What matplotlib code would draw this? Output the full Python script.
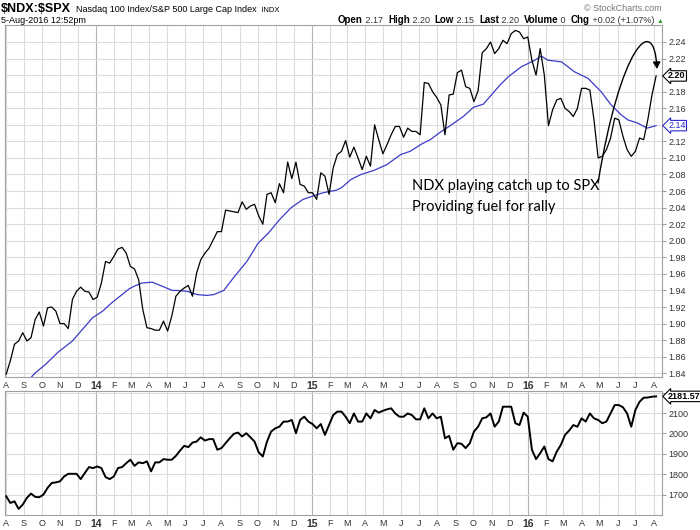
import matplotlib
matplotlib.use('Agg')
import matplotlib.pyplot as plt
import pandas as pd
import numpy as np
from matplotlib.path import Path
from matplotlib.patches import FancyArrowPatch

# ---------------- data ----------------
ratio_values = [
    1.839, 1.855, 1.875, 1.879, 1.889, 1.879, 1.883, 1.905, 1.914, 1.897,
    1.919, 1.920, 1.915, 1.900, 1.900, 1.894, 1.929, 1.939, 1.944, 1.939,
    1.938, 1.929, 1.932, 1.949, 1.975, 1.973, 1.981, 1.990, 1.992, 1.985,
    1.969, 1.966, 1.953, 1.917, 1.895, 1.894, 1.892, 1.892, 1.903, 1.891,
    1.909, 1.933, 1.939, 1.943, 1.946, 1.933, 1.961, 1.977, 1.985, 1.991,
    2.001, 2.011, 2.011, 2.037, 2.036, 2.035, 2.034, 2.047, 2.038, 2.042,
    2.044, 2.030, 2.020, 2.056, 2.058, 2.046, 2.069, 2.058, 2.095, 2.075,
    2.095, 2.068, 2.066, 2.058, 2.058, 2.050, 2.082, 2.078, 2.056, 2.088,
    2.104, 2.108, 2.121, 2.101, 2.113, 2.100, 2.086, 2.102, 2.090, 2.140,
    2.122, 2.105, 2.116, 2.128, 2.138, 2.138, 2.125, 2.136, 2.132, 2.132,
    2.128, 2.191, 2.190, 2.180, 2.173, 2.164, 2.128, 2.176, 2.177, 2.203,
    2.206, 2.186, 2.184, 2.168, 2.181, 2.227, 2.232, 2.240, 2.226, 2.232,
    2.242, 2.238, 2.250, 2.254, 2.252, 2.244, 2.246, 2.218, 2.200, 2.232,
    2.200, 2.139, 2.158, 2.170, 2.172, 2.160, 2.156, 2.150, 2.160, 2.184,
    2.184, 2.182, 2.146, 2.100, 2.102, 2.110, 2.124, 2.148, 2.146, 2.126,
    2.110, 2.102, 2.108, 2.124, 2.122, 2.146, 2.176, 2.199,
]

spx_values = [
    1692, 1659, 1667, 1630, 1651, 1684, 1705, 1689, 1687, 1700,
    1733, 1757, 1760, 1765, 1789, 1802, 1802, 1802, 1776, 1806,
    1835, 1830, 1838, 1830, 1786, 1776, 1789, 1830, 1835, 1854,
    1871, 1841, 1858, 1854, 1863, 1814, 1858, 1858, 1874, 1871,
    1871, 1890, 1916, 1939, 1933, 1955, 1960, 1981, 1965, 1972,
    1972, 1920, 1928, 1952, 1976, 1998, 2004, 1985, 2001, 1981,
    1960, 1907, 1887, 1960, 2009, 2025, 2033, 2058, 2058, 2066,
    2001, 2066, 2082, 2058, 2046, 2025, 2046, 1993, 2041, 2090,
    2107, 2107, 2082, 2050, 2098, 2058, 2058, 2098, 2074, 2115,
    2102, 2111, 2118, 2123, 2098, 2082, 2082, 2098, 2090, 2069,
    2069, 2123, 2074, 2098, 2074, 2082, 1976, 1988, 1920, 1952,
    1949, 1928, 1952, 2009, 2033, 2074, 2079, 2098, 2033, 2058,
    2131, 2131, 2131, 2050, 2041, 2102, 2082, 1920, 1874, 1903,
    1936, 1874, 1863, 1911, 1944, 1993, 2014, 2041, 2033, 2074,
    2058, 2098, 2074, 2066, 2050, 2058, 2098, 2139, 2139, 2128,
    2098, 2033, 2115, 2155, 2175, 2176, 2180, 2181.57,
]

ma_dates = [
    '2013-09-13', '2013-09-21', '2013-10-08', '2013-10-28', '2013-11-22',
    '2013-12-09', '2013-12-26', '2014-01-12', '2014-01-29', '2014-02-14',
    '2014-02-26', '2014-03-09', '2014-03-20', '2014-04-06', '2014-04-23',
    '2014-05-10', '2014-05-18', '2014-06-04', '2014-06-21', '2014-07-07',
    '2014-07-19', '2014-08-05', '2014-08-21', '2014-09-13', '2014-10-02',
    '2014-10-19', '2014-11-08', '2014-11-27', '2014-12-17', '2015-01-03',
    '2015-01-20', '2015-02-11', '2015-02-20', '2015-03-08', '2015-03-25',
    '2015-04-16', '2015-05-08', '2015-05-31', '2015-06-16', '2015-07-06',
    '2015-07-20', '2015-08-06', '2015-08-23', '2015-09-14', '2015-10-01',
    '2015-10-18', '2015-11-15', '2015-11-29', '2015-12-21', '2016-01-13',
    '2016-01-24', '2016-02-04', '2016-02-27', '2016-03-20', '2016-04-12',
    '2016-05-04', '2016-05-21', '2016-06-07', '2016-06-18', '2016-07-05',
    '2016-07-21', '2016-08-05',
]
ma_values = [
    1.835, 1.841, 1.851, 1.865, 1.879,
    1.893, 1.907, 1.915, 1.926, 1.935,
    1.942, 1.946, 1.949, 1.950, 1.945,
    1.940, 1.940, 1.939, 1.935, 1.934,
    1.935, 1.940, 1.955, 1.975, 1.997,
    2.009, 2.026, 2.040, 2.050, 2.054,
    2.058, 2.061, 2.064, 2.074, 2.080,
    2.085, 2.092, 2.104, 2.108, 2.117,
    2.122, 2.131, 2.139, 2.150, 2.161,
    2.165, 2.188, 2.198, 2.210, 2.218,
    2.223, 2.218, 2.216, 2.204, 2.196,
    2.180, 2.164, 2.152, 2.146, 2.142,
    2.136, 2.139,
]

ratio_ticks = [1.84, 1.86, 1.88, 1.90, 1.92, 1.94, 1.96, 1.98, 2.00, 2.02, 2.04,
               2.06, 2.08, 2.10, 2.12, 2.14, 2.16, 2.18, 2.20, 2.22, 2.24]
spx_ticks = [1700, 1800, 1900, 2000, 2100, 2200]

first_week = '2013-08-02'
month_letters = ['J', 'F', 'M', 'A', 'M', 'J', 'J', 'A', 'S', 'O', 'N', 'D']

# ---------------- figure ----------------
W, H = 700, 530
fig = plt.figure(figsize=(W / 100, H / 100), dpi=100)
plt.rcParams['font.family'] = ['Liberation Sans', 'DejaVu Sans']

def fx(px):
    return px / W

def fy(py):
    return 1 - py / H

weeks = pd.date_range(first_week, periods=len(ratio_values), freq='7D')
ma_dt = pd.to_datetime(ma_dates)
months = pd.date_range('2013-08-01', '2016-08-01', freq='MS')
xlim = (pd.Timestamp('2013-07-31'), pd.Timestamp('2016-08-15'))

ax = fig.add_axes([fx(5), fy(377), fx(657), 352 / H])
ax2 = fig.add_axes([fx(5), fy(515), fx(657), 124 / H])

grid_c = '#dcdcdc'
for a in (ax, ax2):
    a.set_xlim(*xlim)
    for m in months:
        a.axvline(m, color='#b4b4b4' if m.month == 1 else grid_c, lw=0.8, zorder=0)
    a.yaxis.tick_right()
    a.tick_params(axis='y', labelsize=6.5, length=3, width=0.6, color='#888888',
                  labelcolor='#333333', pad=1.5)
    a.tick_params(axis='x', labelsize=6.5, length=0, pad=3, labelcolor='#333333')
    a.set_xticks(months)
    labels = [f"{m.year % 100:02d}" if m.month == 1 else month_letters[m.month - 1]
              for m in months]
    a.set_xticklabels(labels)
    for lab, m in zip(a.get_xticklabels(), months):
        if m.month == 1:
            lab.set_fontweight('bold')
            lab.set_fontsize(7.5)
    for s in a.spines.values():
        s.set_color('#a0a0a0')
        s.set_linewidth(0.8)

last_ratio = ratio_values[-1]
last_ma = ma_values[-1]
last_spx = spx_values[-1]

# main panel (tick labels hidden under the value tags are left blank)
ax.set_ylim(1.8355, 2.2605)
ax.set_yticks(ratio_ticks)
ax.set_yticklabels(["" if (abs(v - last_ratio) < 0.008 or abs(v - last_ma) < 0.008)
                    else f"{v:.2f}" for v in ratio_ticks])
for v in ratio_ticks:
    ax.axhline(v, color=grid_c, lw=0.8, zorder=0)
ax.plot(weeks, ratio_values, color='black', lw=0.9, zorder=3)
ax.plot(ma_dt, ma_values, color='#3b3bc8', lw=0.9, zorder=2)

# lower panel
ax2.set_ylim(1600, 2208)
ax2.set_yticks(spx_ticks)
ax2.set_yticklabels(["" if abs(v - last_spx) < 40 else str(v) for v in spx_ticks])
for v in spx_ticks:
    ax2.axhline(v, color=grid_c, lw=0.8, zorder=0)
ax2.plot(weeks, spx_values, color='black', lw=1.4, zorder=3)

# value tags
def tag(a, val, txt, color, bold=True):
    a.annotate(txt, xy=(1.0, val), xycoords=('axes fraction', 'data'),
               xytext=(4.5, 0), textcoords='offset points', va='center', ha='left',
               fontsize=6.5, fontweight='bold' if bold else 'normal', color=color,
               bbox=dict(boxstyle='larrow,pad=0.08', fc='white', ec=color, lw=0.8),
               annotation_clip=False, zorder=10)

tag(ax, last_ratio, f"{last_ratio:.2f}", 'black')
tag(ax, last_ma, f"{last_ma:.2f}", '#2a2ad0', bold=False)
tag(ax2, last_spx, f"{last_spx:.2f}", 'black')

# ---------------- header ----------------
renderer = fig.canvas.get_renderer()

def chain(pieces, x, y):
    for txt, kw in pieces:
        t = fig.text(fx(x), fy(y), txt, va='baseline', ha='left', **kw)
        bb = t.get_window_extent(renderer)
        x += bb.width
    return x

chain([("\\$NDX:\\$SPX", dict(fontsize=9, fontweight='bold')),
       ("  Nasdaq 100 Index/S&P 500 Large Cap Index", dict(fontsize=6.5)),
       ("  INDX", dict(fontsize=5.5))], 1, 12)
fig.text(fx(1), fy(23), "5-Aug-2016 12:52pm", fontsize=6.5, va='baseline', ha='left')

b = dict(fontsize=7, fontweight='bold')
n = dict(fontsize=6.5, color='#333333')
chain([("Open", b), (" 2.17  ", n), ("High", b), (" 2.20  ", n), ("Low", b),
       (" 2.15  ", n), ("Last", b), (" 2.20  ", n), ("Volume", b), (" 0  ", n),
       ("Chg", b), (" +0.02 (+1.07%) ", n), ("\u25B2", dict(fontsize=5, color='#2e9e2e'))],
      338, 23)
fig.text(fx(662), fy(11), "\u00A9 StockCharts.com", fontsize=6.5, color='#777777',
         ha='right', va='baseline')

# ---------------- annotation ----------------
fig.text(fx(412), fy(190), "NDX playing catch up to SPX", fontsize=10.5,
         family=['Lato', 'DejaVu Sans'], va='baseline', ha='left')
fig.text(fx(412), fy(211), "Providing fuel for rally", fontsize=10.5,
         family=['Lato', 'DejaVu Sans'], va='baseline', ha='left')

verts = [(fx(598), fy(183)), (fx(620), fy(48)), (fx(654), fy(10)), (fx(657), fy(69))]
codes = [Path.MOVETO, Path.CURVE4, Path.CURVE4, Path.CURVE4]
arrow = FancyArrowPatch(path=Path(verts, codes), transform=fig.transFigure,
                        arrowstyle='-|>,head_length=4,head_width=2.2', color='black',
                        lw=1.0, zorder=20)
fig.patches.append(arrow)

fig.savefig('out.png', dpi=100)
